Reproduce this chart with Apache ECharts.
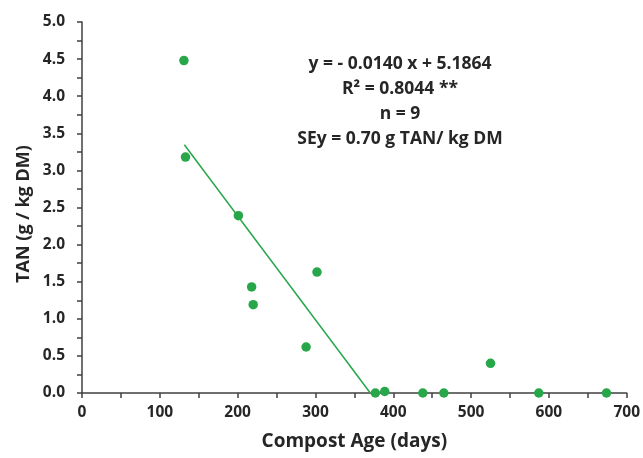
<!DOCTYPE html>
<html><head><meta charset="utf-8">
<script src="https://cdn.jsdelivr.net/npm/echarts@6/dist/echarts.min.js"></script>
<style>html,body{margin:0;padding:0;background:#fff}#c{width:643px;height:458px}</style>
</head><body><div id="c"></div>
<script>
const ageDays = [131, 133, 201, 218, 220, 302, 288, 377, 389, 438, 465, 525, 587, 674];
const tanValues = [4.48, 3.18, 2.39, 1.43, 1.19, 1.63, 0.62, 0.00, 0.02, 0.00, 0.00, 0.40, 0.00, 0.00];
const trendSlope = -0.0140;
const trendIntercept = 5.1864;
const trendXRange = [131.5, 370.5];
const annotationLines = ['y = - 0.0140 x + 5.1864', 'R² = 0.8044 **', 'n = 9', 'SEy = 0.70 g TAN/ kg DM'];
const yAxisTitle = 'TAN (g / kg DM)';
const xAxisTitle = 'Compost Age (days)';

const pts = ageDays.map((x, i) => [x, tanValues[i]]);
const trend = trendXRange.map(x => [x, Math.max(0, trendSlope * x + trendIntercept)]);
const font = '"Open Sans", sans-serif';
const axisColor = '#404040';
const textColor = '#262626';

const chart = echarts.init(document.getElementById('c'));
chart.setOption({
  animation: false,
  grid: {left: 82, right: 15, top: 22, bottom: 65, containLabel: false},
  xAxis: {
    type: 'value', min: 0, max: 700, interval: 50,
    name: xAxisTitle, nameLocation: 'middle', nameGap: 39,
    nameTextStyle: {fontFamily: font, fontWeight: 'bold', fontSize: 19, color: textColor},
    axisLine: {show: true, lineStyle: {color: axisColor, width: 1.5}},
    axisTick: {show: true, length: 5, lineStyle: {color: axisColor, width: 1.5}},
    splitLine: {show: false},
    axisLabel: {margin: 12, fontFamily: font, fontWeight: 'bold', fontSize: 15.5, color: textColor,
      formatter: v => (v % 100 === 0 ? String(v) : '')}
  },
  yAxis: {
    type: 'value', min: 0, max: 5, interval: 0.25,
    axisLine: {show: true, lineStyle: {color: axisColor, width: 1.5}},
    axisTick: {show: true, length: 5, lineStyle: {color: axisColor, width: 1.5}},
    splitLine: {show: false},
    axisLabel: {margin: 17, fontFamily: font, fontWeight: 'bold', fontSize: 15.5, color: textColor,
      formatter: v => (Math.abs(v * 2 - Math.round(v * 2)) < 1e-6 ? v.toFixed(1) : '')}
  },
  series: [
    {type: 'line', data: trend, symbol: 'none', lineStyle: {color: '#28a74a', width: 1.5}, z: 2},
    {type: 'scatter', data: pts, symbol: 'circle', symbolSize: 9.5, itemStyle: {color: '#28a74a', opacity: 1}, z: 3}
  ],
  graphic: annotationLines.map((t, i) => ({
    type: 'text', x: 400, y: 64 + i * 25,
    style: {text: t, fontFamily: font, fontWeight: 'bold', fontSize: 17.5, fill: textColor,
      align: 'center', verticalAlign: 'middle'}
  })).concat([{
    type: 'text', x: 24, y: 214, rotation: Math.PI / 2,
    style: {text: yAxisTitle, fontFamily: font, fontWeight: 'bold', fontSize: 18, fill: textColor,
      align: 'center', verticalAlign: 'middle'}
  }])
});
</script></body></html>
